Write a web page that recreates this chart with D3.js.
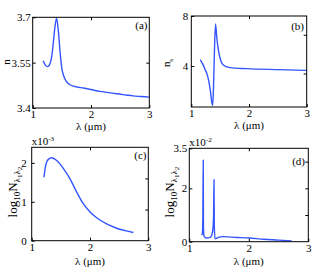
<!DOCTYPE html>
<meta charset="utf-8">
<script src="https://cdn.jsdelivr.net/npm/d3@7"></script>
<style>body{margin:0;background:#fff}</style>
<div id="chart"></div>
<script>
// wavelength ticks shared by all four panels
var xTicks = [1, 2, 3];

// (a) refractive index n
var lamA = [1.18, 1.22, 1.257, 1.30, 1.33, 1.353, 1.383, 1.41, 1.44, 1.467, 1.50, 1.525, 1.57, 1.64, 1.75, 1.87, 2.0, 2.15, 2.3, 2.44, 2.6, 2.72, 2.86, 3.0];
var nA   = [3.556, 3.541, 3.537, 3.548, 3.575, 3.615, 3.67, 3.697, 3.655, 3.592, 3.53, 3.51, 3.49, 3.477, 3.47, 3.466, 3.461, 3.455, 3.451, 3.447, 3.443, 3.44, 3.438, 3.436];
var yTicksA = [3.4, 3.55, 3.7];

// (b) group index ns
var lamB = [1.155, 1.21, 1.24, 1.27, 1.30, 1.33, 1.355, 1.37, 1.385, 1.40, 1.42, 1.44, 1.47, 1.50, 1.56, 1.67, 1.96, 2.53, 3.0];
var nsB  = [4.5, 4.05, 3.7, 3.39, 2.85, 2.04, 1.1, 0.83, 2.3, 5.0, 7.36, 6.34, 5.27, 4.6, 4.06, 3.87, 3.79, 3.71, 3.65];
var yTicksB = [4, 8];

// (c) log10 N, x10^-3
var lamC = [1.211, 1.23, 1.257, 1.285, 1.343, 1.429, 1.542, 1.657, 1.772, 1.885, 2.0, 2.115, 2.286, 2.458, 2.6, 2.743];
var valC = [1.63, 1.85, 2.02, 2.09, 2.13, 2.06, 1.86, 1.59, 1.25, 0.95, 0.74, 0.59, 0.43, 0.32, 0.26, 0.21];
var yTicksC = [0, 1, 2];

// (d) log10 N, x10^-2
var lamD = [1.208, 1.22, 1.228, 1.234, 1.238, 1.25, 1.29, 1.35, 1.376, 1.395, 1.408, 1.415, 1.42, 1.432, 1.46, 1.487, 1.571, 1.8, 2.0, 2.25, 2.5, 2.72];
var valD = [0.24, 0.3, 0.9, 3.05, 0.5, 0.2, 0.14, 0.16, 0.24, 0.45, 0.9, 2.32, 0.6, 0.11, 0.13, 0.16, 0.19, 0.16, 0.14, 0.09, 0.06, 0.03];
var yTicksD = [0, 2, 3.5];

var svg = d3.select("#chart").append("svg")
    .attr("width", 315)
    .attr("height", 276)
    .style("font-family", "'Liberation Serif', 'DejaVu Serif', serif")
    .style("font-size", "11px");

var panels = [
  {l: 32.7, r: 149.3, t: 17.3, b: 108, lam: lamA, val: nA, ydom: [3.4, 3.7], yticks: yTicksA, rticks: [3.55],
   ypad: 2, tag: "(a)", tagx: 147.5, tagy: 29, xlaby: 130, ylab: "n", ylx: 10, yly: 62},
  {l: 191.3, r: 306.7, t: 16, b: 107, lam: lamB, val: nsB, ydom: [0.72, 8], yticks: yTicksB, rticks: [6.5, 3.4],
   ypad: 3, tag: "(b)", tagx: 304, tagy: 30, xlaby: 129, ylab: "ns", ylx: 170, yly: 63},
  {l: 31.7, r: 148.3, t: 147.3, b: 240.7, lam: lamC, val: valC, ydom: [0, 2.4], yticks: yTicksC, rticks: [1.6, 0.8],
   ypad: 5, tag: "(c)", tagx: 146.5, tagy: 159, xlaby: 265, ylab: "log", ylx: 17, yly: 192, exp: "-3"},
  {l: 189.3, r: 308.3, t: 148.3, b: 241.7, lam: lamD, val: valD, ydom: [0, 3.5], yticks: yTicksD, rticks: [1, 2, 3],
   ypad: 2, tag: "(d)", tagx: 305, tagy: 165, xlaby: 265, ylab: "log", ylx: 174, yly: 192, exp: "-2"}
];

panels.forEach(function(p) {
  var x = d3.scaleLinear().domain([1, 3]).range([p.l, p.r]);
  var y = d3.scaleLinear().domain(p.ydom).range([p.b, p.t]);
  var g = svg.append("g");

  // inward ticks on all four sides
  g.append("g").attr("transform", "translate(0," + p.b + ")")
    .call(d3.axisBottom(x).tickValues(xTicks).tickSize(-3).tickPadding(2).tickFormat(function(d) { return String(d); }));
  g.append("g").attr("transform", "translate(0," + p.t + ")")
    .call(d3.axisTop(x).tickValues([2]).tickSize(-3).tickFormat(""));
  g.append("g").attr("transform", "translate(" + p.l + ",0)")
    .call(d3.axisLeft(y).tickValues(p.yticks).tickSize(-3).tickPadding(p.ypad).tickFormat(function(d) { return String(d); }));
  g.append("g").attr("transform", "translate(" + p.r + ",0)")
    .call(d3.axisRight(y).tickValues(p.rticks).tickSize(-3).tickFormat(""));
  g.selectAll(".domain").remove();
  g.selectAll("g").attr("font-family", null).attr("font-size", null);
  g.selectAll(".tick text").attr("fill", "#000");
  g.selectAll(".tick line").attr("stroke", "#000");

  // the curve
  g.append("path")
    .datum(d3.zip(p.lam, p.val))
    .attr("fill", "none")
    .attr("stroke", "#3355ff")
    .attr("stroke-width", 1.4)
    .attr("d", d3.line().x(function(d) { return x(d[0]); }).y(function(d) { return y(d[1]); }).curve(d3.curveMonotoneX));

  // frame
  g.append("rect")
    .attr("x", p.l).attr("y", p.t)
    .attr("width", p.r - p.l).attr("height", p.b - p.t)
    .attr("fill", "none").attr("stroke", "#000").attr("stroke-width", 1);

  // panel tag
  g.append("text").attr("x", p.tagx).attr("y", p.tagy).attr("text-anchor", "end").text(p.tag);

  // x label
  g.append("text").attr("x", (p.l + p.r) / 2).attr("y", p.xlaby).attr("text-anchor", "middle").text("λ (μm)");

  // y label
  var yl = g.append("text")
    .attr("transform", "translate(" + p.ylx + "," + p.yly + ") rotate(-90)")
    .attr("text-anchor", "middle");
  if (p.ylab == "n") {
    yl.text("n");
  } else if (p.ylab == "ns") {
    yl.append("tspan").text("n");
    yl.append("tspan").attr("dy", 3).style("font-size", "7px").text("s");
  } else {
    yl.style("font-size", "13px");
    yl.append("tspan").text("log");
    yl.append("tspan").attr("dy", 3).style("font-size", "9px").text("10");
    yl.append("tspan").attr("dy", -3).text("N");
    yl.append("tspan").attr("dy", 3).style("font-size", "9px").text("λ");
    yl.append("tspan").attr("dy", 2).style("font-size", "7px").text("1");
    yl.append("tspan").attr("dy", -2).style("font-size", "9px").text("λ");
    yl.append("tspan").attr("dy", 2).style("font-size", "7px").text("2");
  }

  // exponent marker
  if (p.exp) {
    var ex = g.append("text").attr("x", p.l).attr("y", p.t - 2);
    ex.append("tspan").text("x10");
    ex.append("tspan").attr("dy", -4).style("font-size", "7px").text(p.exp);
  }
});
</script>
